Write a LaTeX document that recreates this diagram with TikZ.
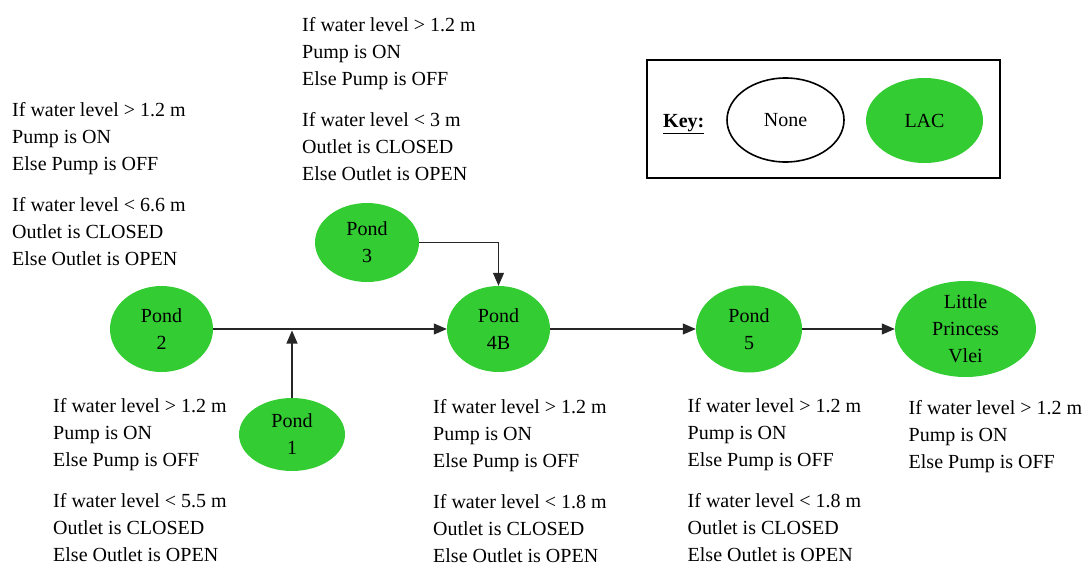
\documentclass[tikz,border=0pt]{standalone}
\usepackage{fontspec}
\setmainfont{Liberation Serif}
\usetikzlibrary{arrows.meta,shapes.geometric}
\definecolor{pondgreen}{RGB}{51,204,51}
\tikzset{
  pond/.style={ellipse, fill=pondgreen, inner sep=-4pt, align=center,
    font=\fontsize{20}{27}\selectfont},
  % rule blocks are placed by the baseline of their last line
  cond/.style={align=left, anchor=base west, inner sep=0pt,
    font=\fontsize{20}{27}\selectfont},
  flow/.style={draw=black!85, line width=1.1pt,
    -{Triangle[length=13pt,width=11pt]}},
}
\begin{document}
\begin{tikzpicture}[x=1pt, y=-1pt]
\useasboundingbox (0,0) rectangle (1086,565);

% ponds
\node[pond, minimum width=103pt, minimum height=86pt] (p2) at (161.5,329) {Pond\\2};
\node[pond, minimum width=106pt, minimum height=73pt] (p1) at (292,434.5) {Pond\\1};
\node[pond, minimum width=104pt, minimum height=79pt] (p3) at (367,242.5) {Pond\\3};
\node[pond, minimum width=103pt, minimum height=86pt] (p4b) at (498.5,329) {Pond\\4B};
\node[pond, minimum width=106pt, minimum height=87pt] (p5) at (749,329) {Pond\\5};
\node[pond, minimum width=141pt, minimum height=96pt] (lpv) at (965.5,329) {Little\\Princess\\Vlei};

% flow connections
\coordinate (join) at (292,330.5);
\draw[flow] (p2) -- (p4b);
\draw[flow] (p1) -- (join);
\draw[flow] (p3) -| (p4b);
\draw[flow] (p4b) -- (p5);
\draw[flow] (p5) -- (lpv);

% operating rules
\node[cond] (r2) at (12,265) {If water level > 1.2 m\\Pump is ON\\Else Pump is OFF\\[14pt]If water level < 6.6 m\\Outlet is CLOSED\\Else Outlet is OPEN};
\node[cond] (r3) at (302,180) {If water level > 1.2 m\\Pump is ON\\Else Pump is OFF\\[14pt]If water level < 3 m\\Outlet is CLOSED\\Else Outlet is OPEN};
\node[cond] (r1) at (53,561.5) {If water level > 1.2 m\\Pump is ON\\Else Pump is OFF\\[14pt]If water level < 5.5 m\\Outlet is CLOSED\\Else Outlet is OPEN};
\node[cond] (r4b) at (433,562) {If water level > 1.2 m\\Pump is ON\\Else Pump is OFF\\[14pt]If water level < 1.8 m\\Outlet is CLOSED\\Else Outlet is OPEN};
\node[cond] (r5) at (687.5,561.5) {If water level > 1.2 m\\Pump is ON\\Else Pump is OFF\\[14pt]If water level < 1.8 m\\Outlet is CLOSED\\Else Outlet is OPEN};
\node[cond] (rlpv) at (908.5,468) {If water level > 1.2 m\\Pump is ON\\Else Pump is OFF};

% key
\node[draw=black, line width=2pt, minimum width=353pt, minimum height=118pt, inner sep=0pt] (keybox) at (823.5,119) {};
\node[anchor=base west, inner sep=0pt, font=\fontsize{20}{27}\selectfont] (keylabel) at (663,127) {\underline{\textbf{Key:}}};
\node[ellipse, draw=black, line width=1.6pt, minimum width=117pt, minimum height=84pt, inner sep=0pt, font=\fontsize{20}{27}\selectfont] (knone) at (785.5,120) {None};
\node[ellipse, fill=pondgreen, minimum width=117pt, minimum height=85pt, inner sep=0pt, font=\fontsize{20}{27}\selectfont] (klac) at (924.5,120.5) {LAC};
\end{tikzpicture}
\end{document}
